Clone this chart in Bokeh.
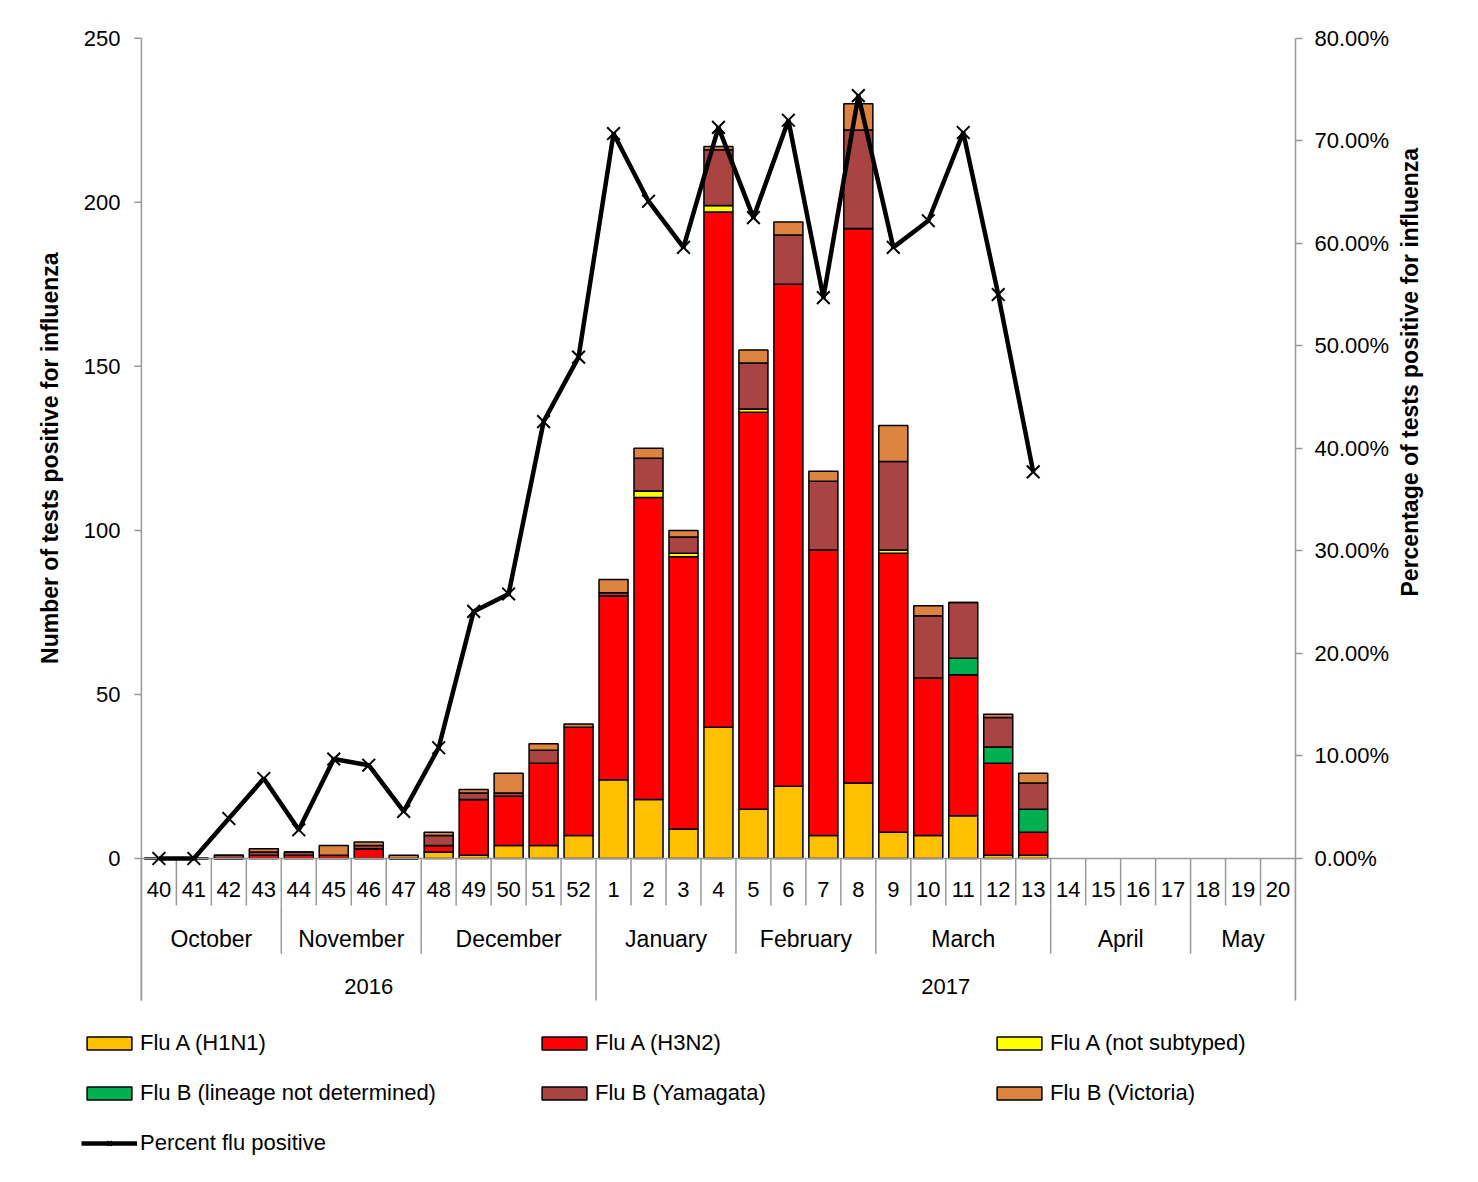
import math
from bokeh.plotting import figure
from bokeh.models import (Range1d, LinearAxis, FixedTicker, PrintfTickFormatter,
                          Legend, LegendItem)
from bokeh.core.properties import value
from bokeh.embed import file_html
from bokeh.resources import INLINE

weeks = ["40", "41", "42", "43", "44", "45", "46", "47", "48", "49", "50", "51", "52",
         "1", "2", "3", "4", "5", "6", "7", "8", "9", "10", "11", "12", "13",
         "14", "15", "16", "17", "18", "19", "20"]
h1n1 = [0, 0, 0, 0, 0, 0, 0, 0, 2, 1, 4, 4, 7, 24, 18, 9, 40, 15, 22, 7, 23, 8, 7, 13, 1, 1]
h3n2 = [0, 0, 0, 1, 1, 1, 3, 0, 2, 17, 15, 25, 33, 56, 92, 83, 157, 121, 153, 87, 169, 85, 48, 43, 28, 7]
notsub = [0, 0, 0, 0, 0, 0, 0, 0, 0, 0, 0, 0, 0, 0, 2, 1, 2, 1, 0, 0, 0, 1, 0, 0, 0, 0]
b_und = [0, 0, 0, 0, 0, 0, 0, 0, 0, 0, 0, 0, 0, 0, 0, 0, 0, 0, 0, 0, 0, 0, 0, 5, 5, 7]
b_yam = [0, 0, 1, 1, 1, 0, 1, 0, 3, 2, 1, 4, 0, 1, 10, 5, 17, 14, 15, 21, 30, 27, 19, 17, 9, 8]
b_vic = [0, 0, 0, 1, 0, 3, 1, 1, 1, 1, 6, 2, 1, 4, 3, 2, 1, 4, 4, 3, 8, 11, 3, 0, 1, 3]
pct = [0, 0, 3.9, 7.8, 2.8, 9.7, 9.1, 4.6, 10.8, 24.1, 25.8, 42.6, 48.9, 70.7, 64.1, 59.6,
       71.3, 62.5, 72.0, 54.7, 74.4, 59.6, 62.2, 70.8, 55.0, 37.7]
months = ["October", "November", "December", "January", "February", "March", "April", "May"]
month_len = [4, 4, 5, 4, 4, 5, 4, 3]
years = ["2016", "2017"]
year_len = [13, 20]
count_ticks = [0, 50, 100, 150, 200, 250]

series = [("Flu A (H1N1)", h1n1, "#FFC000"), ("Flu A (H3N2)", h3n2, "#FF0000"),
          ("Flu A (not subtyped)", notsub, "#FFFF00"),
          ("Flu B (lineage not determined)", b_und, "#00B050"),
          ("Flu B (Yamagata)", b_yam, "#A94442"), ("Flu B (Victoria)", b_vic, "#DC843F")]

YAX = -43.3     # bottom of the axis / category area
YMIN = -96.3    # bottom of the frame (legend lives below the category area)
YMAX = 256      # a little headroom so the top tick label is not clipped
XMIN = -3.2     # room left of the first week for the hand-drawn count axis
FONT = "Liberation Sans"
GR = "#999999"
p = figure(frame_width=1266, frame_height=1156, x_range=Range1d(XMIN, 33), y_range=Range1d(YMIN, YMAX),
           output_backend="svg", toolbar_location=None, min_border_left=29, min_border_top=18,
           min_border_right=10, min_border_bottom=0)
p.xaxis.visible = False
p.yaxis.visible = False
p.grid.visible = False
p.outline_line_color = None
p.extra_y_ranges = {"pct": Range1d(YMIN / 250 * 80, YMAX / 250 * 80)}

# left (count) axis drawn by hand so the legend can reach further left
p.segment(x0=[0], y0=[YAX], x1=[0], y1=[250], line_color=GR, line_width=1.5)
p.segment(x0=[0] * len(count_ticks), y0=count_ticks, x1=[-0.2] * len(count_ticks), y1=count_ticks,
          line_color=GR, line_width=1.5)
p.text(x=[-0.6] * len(count_ticks), y=count_ticks, text=[str(t) for t in count_ticks],
       text_align="right", text_baseline="middle", text_font=value(FONT), text_font_size="22px")
p.text(x=[-2.6], y=[122], text=["Number of tests positive for influenza"], angle=math.pi / 2,
       text_align="center", text_baseline="middle", text_font=value(FONT), text_font_size="23px",
       text_font_style="bold")

ra = LinearAxis(y_range_name="pct", axis_label="Percentage  of  tests  positive for influenza",
                ticker=FixedTicker(ticks=list(range(0, 81, 10))),
                formatter=PrintfTickFormatter(format="%.2f%%"))
p.add_layout(ra, "right")
ra.axis_label_orientation = math.pi / 2
ra.bounds = (YAX / 250 * 80, 80)
ra.axis_line_color = GR
ra.axis_line_width = 1.5
ra.major_tick_line_color = GR
ra.major_tick_line_width = 1.5
ra.major_tick_out = 7
ra.major_tick_in = 0
ra.minor_tick_line_color = None
ra.major_label_text_font = FONT
ra.major_label_text_font_size = "22px"
ra.major_label_text_color = "black"
ra.axis_label_text_font = FONT
ra.axis_label_text_font_size = "23px"
ra.axis_label_text_font_style = "bold"
ra.axis_label_text_color = "black"
ra.major_label_standoff = 12
ra.axis_label_standoff = 18

n = len(h1n1)
xs = [i + 0.5 for i in range(n)]
bottom = [0] * n
items = []
for name, vals, col in series:
    top = [b + v for b, v in zip(bottom, vals)]
    r = p.vbar(x=xs, bottom=bottom, top=top, width=0.83, fill_color=col, line_color="black",
               line_width=1.5)
    items.append(LegendItem(label=name, renderers=[r]))
    bottom = top

# baseline and category separators
p.segment(x0=[0], y0=[0], x1=[33], y1=[0], line_color=GR, line_width=1.5)
p.segment(x0=list(range(34)), y0=[0] * 34, x1=list(range(34)), y1=[-14.3] * 34,
          line_color=GR, line_width=1.5)
mb = [0]
for m in month_len:
    mb.append(mb[-1] + m)
p.segment(x0=mb, y0=[-14.3] * len(mb), x1=mb, y1=[-29] * len(mb), line_color=GR, line_width=1.5)
yb = [0]
for y in year_len:
    yb.append(yb[-1] + y)
p.segment(x0=yb, y0=[-29] * 3, x1=yb, y1=[YAX] * 3, line_color=GR, line_width=1.5)

p.text(x=[i + 0.5 for i in range(33)], y=[-9.4] * 33, text=weeks, text_align="center",
       text_baseline="middle", text_font=value(FONT), text_font_size="22px")
p.text(x=[(mb[i] + mb[i + 1]) / 2 for i in range(len(months))], y=[-24.4] * len(months), text=months,
       text_align="center", text_baseline="middle", text_font=value(FONT), text_font_size="23px")
p.text(x=[(yb[i] + yb[i + 1]) / 2 for i in range(len(years))], y=[-39] * 2, text=years,
       text_align="center", text_baseline="middle", text_font=value(FONT), text_font_size="22px")

ln = p.line(x=xs, y=pct, y_range_name="pct", line_color="black", line_width=4.5)
mk = p.scatter(x=xs, y=pct, y_range_name="pct", marker="x", size=18, line_color="black", line_width=2)
items.append(LegendItem(label="Percent flu positive", renderers=[ln, mk]))

leg = Legend(items=items, ncols=3, location=(52, 18), label_text_font=FONT,
             label_text_font_size="22px", label_text_color="black", glyph_width=56,
             glyph_height=16, label_width=372, spacing=24, label_standoff=3,
             border_line_color=None, background_fill_alpha=0, margin=0, padding=0, label_height=24)
leg.orientation = "horizontal"
p.add_layout(leg, "center")

open("out.html", "w").write(file_html(p, INLINE))
